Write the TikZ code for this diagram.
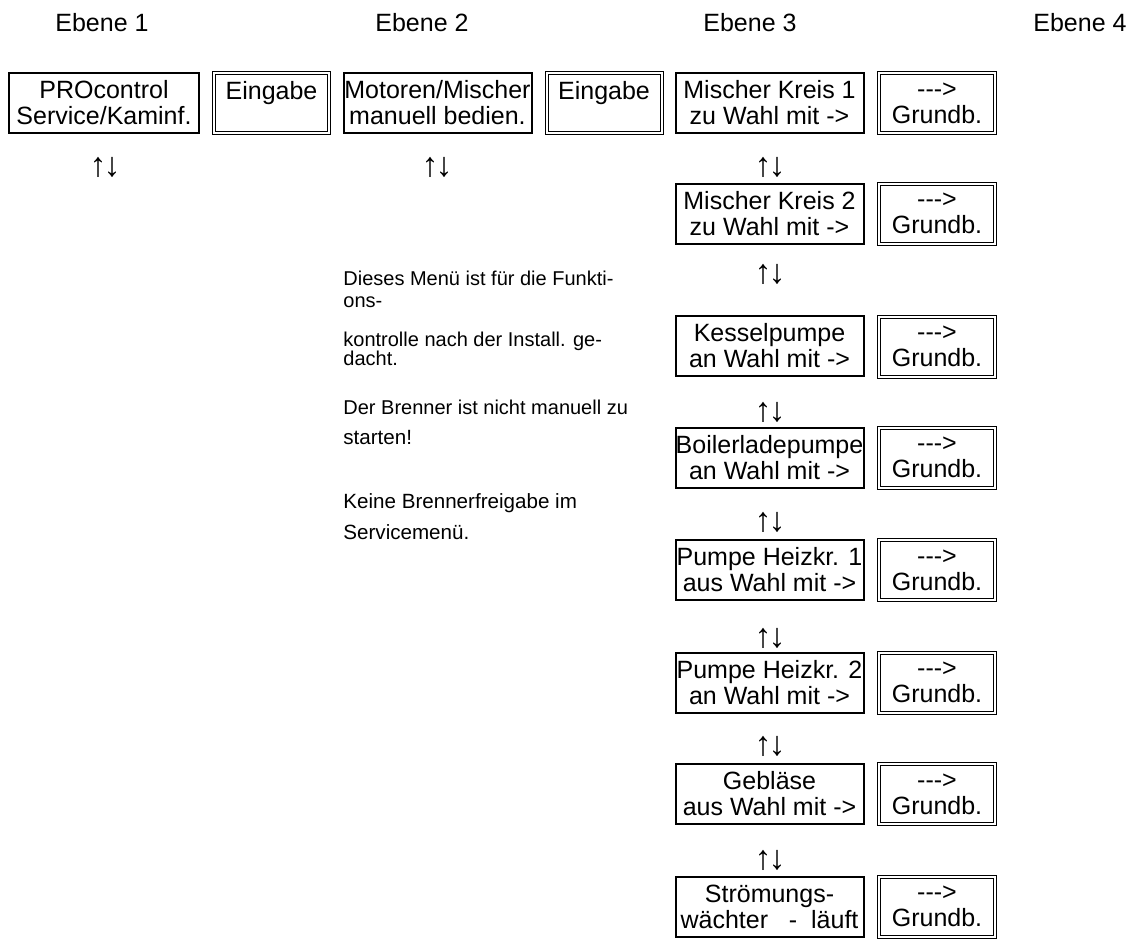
\documentclass[tikz,border=0pt]{standalone}
\usepackage{fontspec}
\setmainfont{Liberation Sans}
\usetikzlibrary{calc}

\newcommand{\updn}{↑\kern-1.5pt↓}

\begin{document}
\begin{tikzpicture}[x=0.5pt, y=-0.5pt,
	menu/.style={draw, line width=1pt, inner sep=0pt, minimum width=94pt, minimum height=30pt, align=center, font=\fontsize{12.5}{13}\selectfont},
	enter/.style={draw, double, double distance=1pt, line width=0.5pt, inner sep=0pt, minimum width=58pt, minimum height=30pt, align=center, font=\fontsize{12.5}{13}\selectfont},
	updown/.style={inner sep=0pt, font=\fontsize{17}{17}\selectfont},
	level/.style={anchor=base west, inner sep=0pt, font=\fontsize{12.5}{13}\selectfont},
	note/.style={anchor=base west, inner sep=0pt}]
	
	\useasboundingbox (0,0) rectangle (1134,939);
	
	% Kopfzeile
	\node[level] (lev1) at (55,31) {Ebene 1};
	\node[level] (lev2) at (375,31) {Ebene 2};
	\node[level] (lev3) at (703,31) {Ebene 3};
	\node[level] (lev4) at (1033,31) {Ebene 4};
	
	% Ebene 1 und 2
	\node[menu] (pro) at (104,103) [minimum width=95pt] {PROcontrol\\Service/Kaminf.};
	\node[enter] (eing1) at (271.5,103) [minimum width=57.5pt] {Eingabe\\~};
	\node[menu] (motor) at (437.5,103) {Motoren/Mischer\\manuell bedien.};
	\node[enter] (eing2) at (604,103) [minimum width=57.5pt] {Eingabe\\~};
	
	\node[updown] (ud1) at (105,167) {\updn};
	\node[updown] (ud2) at (437,167) {\updn};
	
	% Hinweise
	\node[note, font=\fontsize{10}{10}\selectfont] (txt1) at (343,285) {Dieses Menü ist für die Funkti-};
	\node[note, font=\fontsize{10}{10}\selectfont] (txt2) at (343,307) {ons-};
	\node[note, font=\fontsize{10}{10}\selectfont] (txt3) at (343,346) {kontrolle nach der Install. ge-};
	\node[note, font=\fontsize{10}{10}\selectfont] (txt4) at (343,365) {dacht.};
	\node[note, font=\fontsize{10}{11}\selectfont] (txt5) at (343,414) {Der Brenner ist nicht manuell zu};
	\node[note, font=\fontsize{10.3}{11}\selectfont] (txt6) at (343,444) {starten!};
	\node[note, font=\fontsize{10.3}{11}\selectfont] (txt7) at (343,508) {Keine Brennerfreigabe im};
	\node[note, font=\fontsize{10.3}{11}\selectfont] (txt8) at (343,539) {Servicemenü.};
	
	% Ebene 3 und 4
	\node[menu] (mk1) at (769.5,103) {Mischer Kreis 1\\zu Wahl mit ->};
	\node[enter] (gb1) at (937,103) {-{}-{}->\\Grundb.};
	\node[updown] (ud3) at (770,167) {\updn};
	
	\node[menu] (mk2) at (769.5,213.5) {Mischer Kreis 2\\zu Wahl mit ->};
	\node[enter] (gb2) at (937,213.5) {-{}-{}->\\Grundb.};
	\node[updown] (ud4) at (770,274) {\updn};
	
	\node[menu] (kp) at (769.5,346) {Kesselpumpe\\an Wahl mit ->};
	\node[enter] (gb3) at (937,346.5) {-{}-{}->\\Grundb.};
	\node[updown] (ud5) at (770,412) {\updn};
	
	\node[menu] (blp) at (769.5,457.5) {Boilerladepumpe\\an Wahl mit ->};
	\node[enter] (gb4) at (937,457.5) {-{}-{}->\\Grundb.};
	\node[updown] (ud6) at (770,522) {\updn};
	
	\node[menu] (hk1) at (769.5,570) {Pumpe Heizkr. 1\\aus Wahl mit ->};
	\node[enter] (gb5) at (937,570) {-{}-{}->\\Grundb.};
	\node[updown] (ud7) at (770,638) {\updn};
	
	\node[menu] (hk2) at (769.5,682.5) {Pumpe Heizkr. 2\\an Wahl mit ->};
	\node[enter] (gb6) at (937,682.5) {-{}-{}->\\Grundb.};
	\node[updown] (ud8) at (770,746) {\updn};
	
	\node[menu] (fan) at (769.5,794) {Gebläse\\aus Wahl mit ->};
	\node[enter] (gb7) at (937,794) {-{}-{}->\\Grundb.};
	\node[updown] (ud9) at (770,860) {\updn};
	
	\node[menu] (flow) at (769.5,906.5) {Strömungs-\\wächter\ \ \ -\ \ läuft};
	\node[enter] (gb8) at (937,906.5) {-{}-{}->\\Grundb.};
	
\end{tikzpicture}
\end{document}
